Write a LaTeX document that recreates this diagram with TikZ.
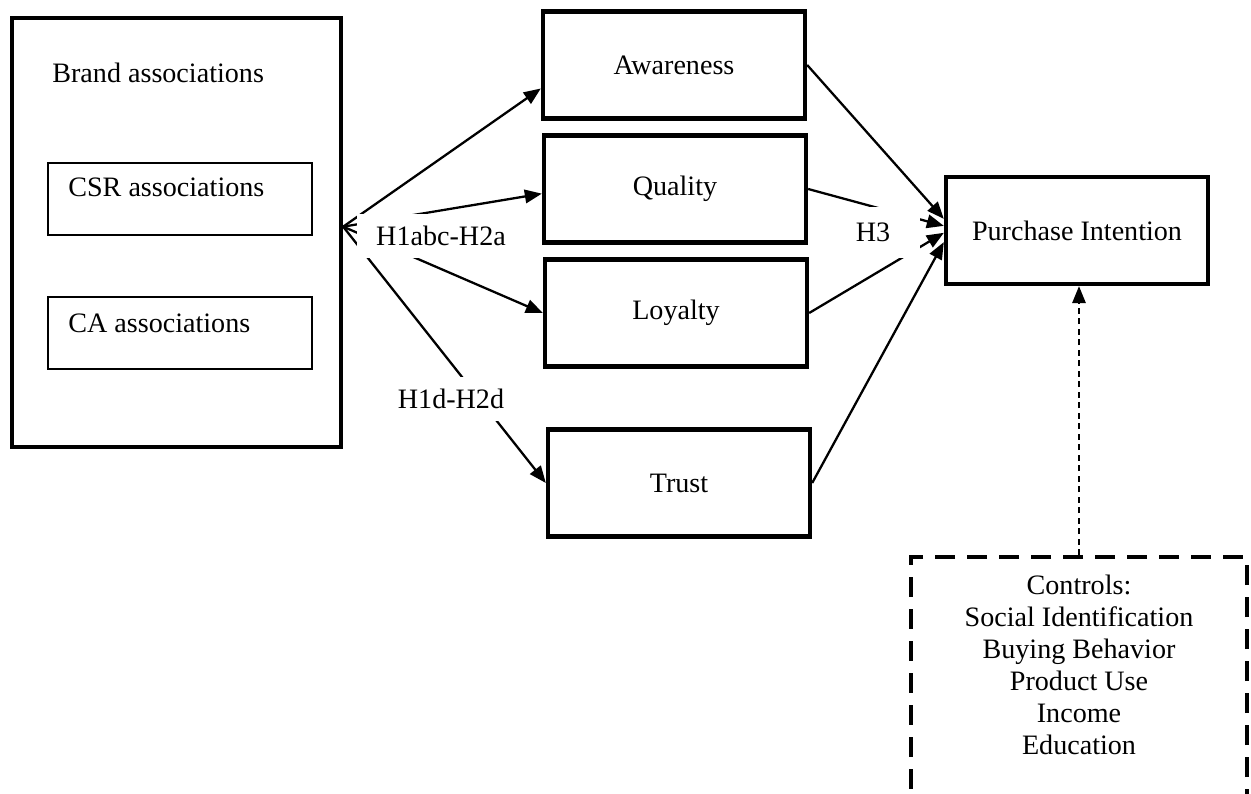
\documentclass[tikz,border=0pt]{standalone}
\usepackage{fontspec}
\setmainfont{Liberation Serif}
\usetikzlibrary{arrows.meta,positioning}
\tikzstyle{big}=[rectangle,draw=black,line width=2.5pt,minimum width=6.58cm,minimum height=8.58cm]
\tikzstyle{sub}=[rectangle,draw=black,line width=0.6pt,minimum width=5.28cm,minimum height=1.44cm]
\tikzstyle{bx}=[rectangle,draw=black,line width=2.5pt,fill=white,minimum width=5.24cm,minimum height=2.14cm]
\tikzstyle{ctl}=[rectangle,draw=black,line width=2.5pt,dash pattern=on 0.4cm off 0.24cm,
  minimum width=6.72cm,minimum height=6cm]
\tikzstyle{tx}=[inner sep=0pt]
\tikzstyle{lb}=[fill=white,inner sep=0pt,minimum width=3.38cm,minimum height=0.88cm]
\tikzstyle{ar}=[line width=1.3pt,-{Triangle[length=0.34cm,width=0.27cm]}]
\tikzstyle{dar}=[line width=0.9pt,dash pattern=on 0.12cm off 0.09cm,-{Triangle[length=0.34cm,width=0.27cm]}]

\begin{document}
\begin{tikzpicture}[x=0.02cm,y=-0.02cm,font=\fontsize{16}{18.2}\selectfont]
		\useasboundingbox (0,0) rectangle (1251,794);
		\node [style=big] (0) at (176.5, 232.5) {};
		\node [style=tx, anchor=west] (1) at (52, 73) {Brand associations};
		\node [style=sub] (2) at (180, 199) {};
		\node [style=tx, anchor=west] (3) at (68, 187) {CSR associations};
		\node [style=sub] (4) at (180, 333) {};
		\node [style=tx, anchor=west] (5) at (68, 323) {CA associations};
		\node [style=bx] (6) at (674, 65) {Awareness};
		\node [style=bx] (7) at (675, 189) {Quality};
		\node [style=bx] (8) at (676, 313) {Loyalty};
		\node [style=bx] (9) at (679, 483) {Trust};
		\node [style=bx] (10) at (1077, 230.5) {Purchase Intention};
		\node [style=ctl, anchor=north] (11) at (1079, 555) {};
		\node [style=tx, align=center] (12) at (1079, 665) {Controls:\\Social Identification\\Buying Behavior\\Product Use\\Income\\Education};
		\draw [style=ar] (0.2) to (6.190);
		\draw [style=ar] (0.2) to (7.182);
		\draw [style=ar] (0.2) to (8.west);
		\draw [style=ar] (0.2) to (9.west);
		\draw [style=ar] (6.east) to (10.175);
		\draw [style=ar] (7.east) to (10.178);
		\draw [style=ar] (8.east) to (10.181);
		\draw [style=ar] (9.east) to (10.185);
		\draw [style=dar] (11.north) to (11.north |- 10.south);
		\node [style=lb] (13) at (441, 236) {H1abc-H2a};
		\node [style=lb] (14) at (451, 399) {H1d-H2d};
		\node [style=lb, minimum width=1.88cm, minimum height=1.02cm] (15) at (873, 232.5) {H3};
\end{tikzpicture}
\end{document}
